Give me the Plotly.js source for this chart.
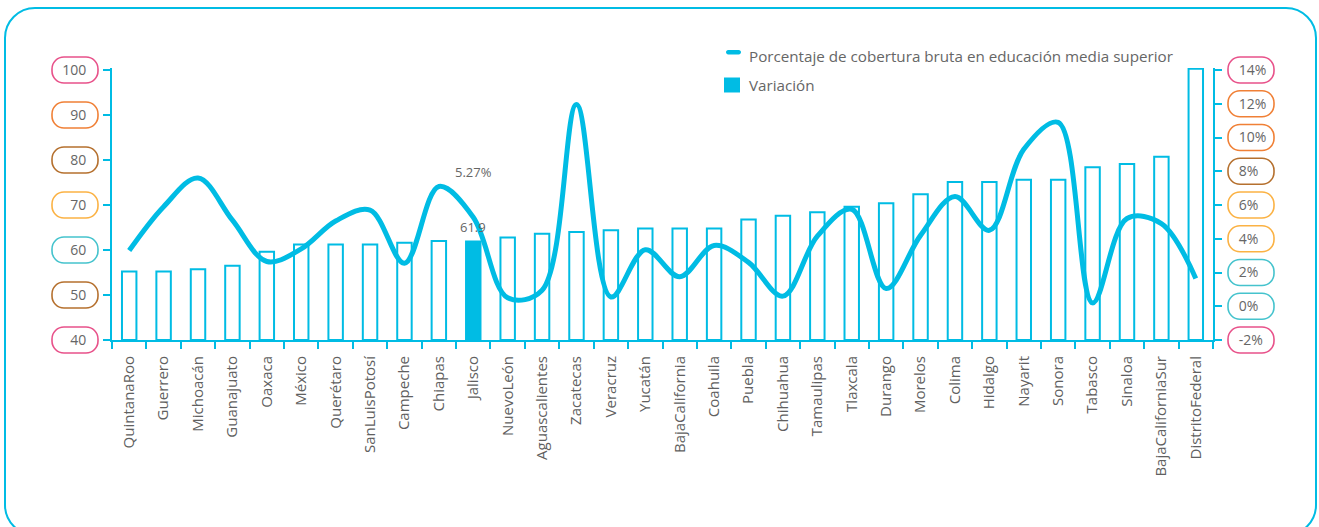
<!DOCTYPE html>
<html>
<head>
<meta charset="utf-8">
<script src="https://cdn.plot.ly/plotly-3.0.1.min.js"></script>
<style>
  html, body { margin: 0; padding: 0; background: #ffffff; }
  #chart { width: 1319px; height: 527px; }
</style>
</head>
<body>
<div id="chart"></div>
<script>
// ---- Data ----
const categories = ['QuintanaRoo','Guerrero','Michoacán','Guanajuato','Oaxaca','México','Querétaro','SanLuisPotosí','Campeche','Chiapas','Jalisco','NuevoLeón','Aguascalientes','Zacatecas','Veracruz','Yucatán','BajaCalifornia','Coahuila','Puebla','Chihuahua','Tamaulipas','Tlaxcala','Durango','Morelos','Colima','Hidalgo','Nayarit','Sonora','Tabasco','Sinaloa','BajaCaliforniaSur','DistritoFederal'];

// bars (left axis)
const coverageValues = [55.2,55.2,55.7,56.5,59.6,61.2,61.2,61.2,61.6,62.0,61.9,62.8,63.6,64.0,64.4,64.8,64.8,64.8,66.8,67.6,68.4,69.6,70.4,72.4,75.1,75.1,75.6,75.6,78.4,79.1,80.7,100.3];

// line (right axis, %)
const variationValues = [3.3,5.9,7.6,5.1,2.65,3.4,5.05,5.7,2.55,7.1,5.27,0.5,0.95,11.95,0.55,3.35,1.75,3.6,2.6,0.6,4.15,5.75,1.05,4.2,6.5,4.5,9.3,10.9,0.2,5.2,4.9,1.65];

const leftTickVals = [40,50,60,70,80,90,100];
const leftTickText = ['40','50','60','70','80','90','100'];
const rightTickVals = [-2,0,2,4,6,8,10,12,14];
const rightTickText = ['-2%','0%','2%','4%','6%','8%','10%','12%','14%'];

const lineName = 'Porcentaje de cobertura bruta en educación media superior';
const barName = 'Variación';
const highlighted = 'Jalisco';

// ---- Styles ----
const CYAN = '#00BCE4';
const TEXT = '#666666';
const FONT = 'Open Sans, sans-serif';
const leftPillColors = ['#E8528A','#B5702E','#45C3CD','#FBB244','#B5702E','#F08036','#E8528A']; // 40..100
const rightPillColors = ['#E8528A','#45C3CD','#45C3CD','#FBB244','#FBB244','#B5702E','#F08036','#F08036','#E8528A']; // -2..14

// plot area in pixels
const W = 1319, H = 527;
const PL = 112, PR = 1213, PT = 68, PB = 340;
const LEFT_PX_PER_UNIT = 270 / 60;
const RIGHT_PX_PER_UNIT = 270 / 16;
const leftRange = [40, 40 + (PB - PT) / LEFT_PX_PER_UNIT];
const rightRange = [-2, -2 + (PB - PT) / RIGHT_PX_PER_UNIT];

function rrect(x0, x1, y0, y1, r) {
  const k = 0.5523 * r;
  return 'M' + (x0 + r) + ',' + y0 +
    ' L' + (x1 - r) + ',' + y0 +
    ' C' + (x1 - r + k) + ',' + y0 + ' ' + x1 + ',' + (y0 + r - k) + ' ' + x1 + ',' + (y0 + r) +
    ' L' + x1 + ',' + (y1 - r) +
    ' C' + x1 + ',' + (y1 - r + k) + ' ' + (x1 - r + k) + ',' + y1 + ' ' + (x1 - r) + ',' + y1 +
    ' L' + (x0 + r) + ',' + y1 +
    ' C' + (x0 + r - k) + ',' + y1 + ' ' + x0 + ',' + (y1 - r + k) + ' ' + x0 + ',' + (y1 - r) +
    ' L' + x0 + ',' + (y0 + r) +
    ' C' + x0 + ',' + (y0 + r - k) + ' ' + (x0 + r - k) + ',' + y0 + ' ' + (x0 + r) + ',' + y0 + ' Z';
}

const px2paperX = p => (p - PL) / (PR - PL);
const px2paperY = p => (PB - p) / (PB - PT);
const leftToPaper = v => (v - leftRange[0]) / (leftRange[1] - leftRange[0]);
const rightToPaper = v => (v - rightRange[0]) / (rightRange[1] - rightRange[0]);

const shapes = [];
shapes.push({
  type: 'path', xref: 'paper', yref: 'paper', xsizemode: 'pixel', ysizemode: 'pixel',
  xanchor: 0, yanchor: 0,
  path: rrect(5 - PL, 1316 - PL, PB - 535, PB - 8, 30),
  line: { color: CYAN, width: 2 }, fillcolor: 'rgba(0,0,0,0)', layer: 'below'
});
leftTickVals.forEach((v, i) => {
  shapes.push({
    type: 'path', xref: 'paper', yref: 'paper', xsizemode: 'pixel', ysizemode: 'pixel',
    xanchor: 0, yanchor: leftToPaper(v),
    path: rrect(52 - PL, 98 - PL, -13, 13, 12),
    line: { color: leftPillColors[i], width: 1.6 }, fillcolor: 'rgba(0,0,0,0)'
  });
});
rightTickVals.forEach((v, i) => {
  shapes.push({
    type: 'path', xref: 'paper', yref: 'paper', xsizemode: 'pixel', ysizemode: 'pixel',
    xanchor: 1, yanchor: rightToPaper(v),
    path: rrect(1228 - PR, 1274 - PR, -13, 13, 12),
    line: { color: rightPillColors[i], width: 1.6 }, fillcolor: 'rgba(0,0,0,0)'
  });
});
// custom legend symbols
shapes.push({
  type: 'path', xref: 'paper', yref: 'paper', xsizemode: 'pixel', ysizemode: 'pixel',
  xanchor: 0, yanchor: 0,
  path: rrect(726 - PL, 741 - PL, PB - 54.5, PB - 50, 2.2),
  line: { color: CYAN, width: 0 }, fillcolor: CYAN
});
shapes.push({
  type: 'path', xref: 'paper', yref: 'paper', xsizemode: 'pixel', ysizemode: 'pixel',
  xanchor: 0, yanchor: 0,
  path: 'M' + (724 - PL) + ',' + (PB - 92.5) + ' L' + (740 - PL) + ',' + (PB - 92.5) + ' L' + (740 - PL) + ',' + (PB - 77.5) + ' L' + (724 - PL) + ',' + (PB - 77.5) + ' Z',
  line: { color: CYAN, width: 0 }, fillcolor: CYAN
});

const hi = categories.indexOf(highlighted);

const annotations = [
  { xref: 'paper', yref: 'paper', x: px2paperX(747), y: px2paperY(56), xanchor: 'left', yanchor: 'middle',
    text: lineName, showarrow: false, font: { family: FONT, size: 15.2, color: TEXT } },
  { xref: 'paper', yref: 'paper', x: px2paperX(747), y: px2paperY(85), xanchor: 'left', yanchor: 'middle',
    text: barName, showarrow: false, font: { family: FONT, size: 15.2, color: TEXT } },
  { xref: 'x', yref: 'y2', x: categories[hi], y: variationValues[hi], yshift: 45,
    text: variationValues[hi].toFixed(2) + '%', showarrow: false, font: { family: FONT, size: 13, color: TEXT } },
  { xref: 'x', yref: 'y', x: categories[hi], y: coverageValues[hi], yshift: 14,
    text: coverageValues[hi].toFixed(1), showarrow: false, font: { family: FONT, size: 13, color: TEXT } }
];

const barTrace = {
  type: 'bar', name: barName, x: categories, y: coverageValues.map(v => v - 40), base: 40, yaxis: 'y',
  width: 0.42,
  marker: { color: categories.map(c => c === highlighted ? CYAN : '#ffffff'), line: { color: CYAN, width: 2 } },
  customdata: coverageValues, hovertemplate: '%{x}: %{customdata}<extra></extra>',
  showlegend: false
};

const lineTrace = {
  type: 'scatter', mode: 'lines', name: lineName, x: categories, y: variationValues, yaxis: 'y2',
  line: { color: CYAN, width: 5, shape: 'spline', smoothing: 1 }, cliponaxis: false, showlegend: false
};

const axisCommon = {
  showline: true, linecolor: CYAN, linewidth: 2, ticks: 'outside', ticklen: 7, tickwidth: 2, tickcolor: CYAN,
  showgrid: false, zeroline: false, fixedrange: true
};

const layout = {
  width: W, height: H, autosize: false,
  margin: { l: PL, r: W - PR, t: PT, b: H - PB, pad: 0 },
  paper_bgcolor: '#ffffff', plot_bgcolor: 'rgba(0,0,0,0)',
  font: { family: FONT, color: TEXT },
  showlegend: false,
  xaxis: Object.assign({}, axisCommon, {
    type: 'category', range: [-0.5, categories.length - 0.5], tickson: 'boundaries',
    tickangle: -90, tickfont: { family: FONT, size: 15, color: '#606060' }, ticklabelstandoff: 8, automargin: false
  }),
  yaxis: Object.assign({}, axisCommon, {
    range: leftRange, tickmode: 'array', tickvals: leftTickVals, ticktext: leftTickText,
    tickfont: { family: FONT, size: 14, color: TEXT }, ticklabelstandoff: 14, automargin: false
  }),
  yaxis2: Object.assign({}, axisCommon, {
    overlaying: 'y', side: 'right', range: rightRange, tickmode: 'array', tickvals: rightTickVals, ticktext: rightTickText,
    tickfont: { family: FONT, size: 14, color: TEXT }, ticklabelstandoff: 14, automargin: false
  }),
  shapes: shapes,
  annotations: annotations
};

Plotly.newPlot('chart', [barTrace, lineTrace], layout, { displayModeBar: false, staticPlot: true });
</script>
</body>
</html>
